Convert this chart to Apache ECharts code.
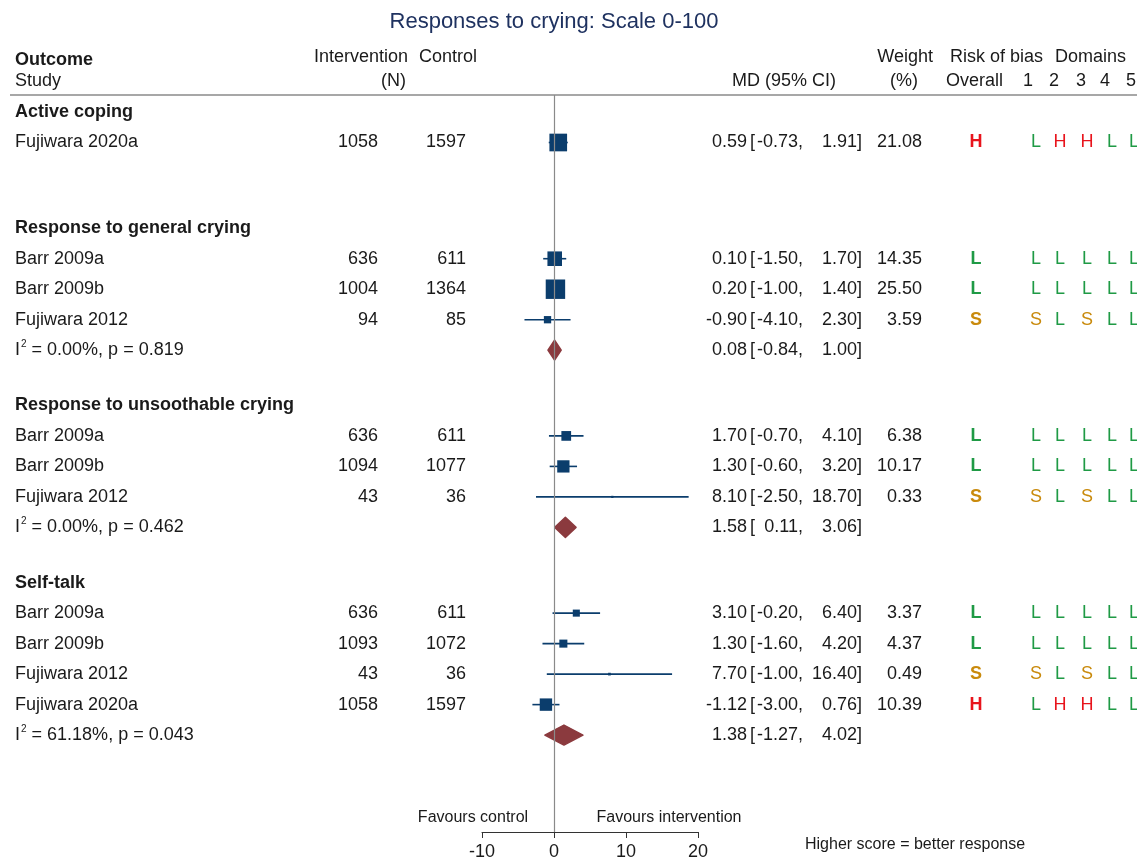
<!DOCTYPE html>
<html>
<head>
<meta charset="utf-8">
<script src="https://cdn.jsdelivr.net/npm/echarts@6/dist/echarts.min.js"></script>
<style>
html,body{margin:0;padding:0;background:#fff;}
#chart{width:1137px;height:859px;}
</style>
</head>
<body>
<div id="chart"></div>
<script>
// ---------------- DATA ----------------
const groupNames = ["Active coping", "Response to general crying", "Response to unsoothable crying", "Self-talk"];
const studyGroup = [0, 1, 1, 1, 2, 2, 2, 3, 3, 3, 3];
const studyNames = ["Fujiwara 2020a", "Barr 2009a", "Barr 2009b", "Fujiwara 2012", "Barr 2009a", "Barr 2009b", "Fujiwara 2012", "Barr 2009a", "Barr 2009b", "Fujiwara 2012", "Fujiwara 2020a"];
const nIntervention = [1058, 636, 1004, 94, 636, 1094, 43, 636, 1093, 43, 1058];
const nControl = [1597, 611, 1364, 85, 611, 1077, 36, 611, 1072, 36, 1597];
const md = [0.59, 0.10, 0.20, -0.90, 1.70, 1.30, 8.10, 3.10, 1.30, 7.70, -1.12];
const ciLow = [-0.73, -1.50, -1.00, -4.10, -0.70, -0.60, -2.50, -0.20, -1.60, -1.00, -3.00];
const ciHigh = [1.91, 1.70, 1.40, 2.30, 4.10, 3.20, 18.70, 6.40, 4.20, 16.40, 0.76];
const weights = [21.08, 14.35, 25.50, 3.59, 6.38, 10.17, 0.33, 3.37, 4.37, 0.49, 10.39];
const robOverall = ["H", "L", "L", "S", "L", "L", "S", "L", "L", "S", "H"];
const robDomains = [
  ["L","H","H","L","L"], ["L","L","L","L","L"], ["L","L","L","L","L"], ["S","L","S","L","L"],
  ["L","L","L","L","L"], ["L","L","L","L","L"], ["S","L","S","L","L"],
  ["L","L","L","L","L"], ["L","L","L","L","L"], ["S","L","S","L","L"], ["L","H","H","L","L"]
];
const pooledMd = [null, 0.08, 1.58, 1.38];
const pooledLow = [null, -0.84, 0.11, -1.27];
const pooledHigh = [null, 1.00, 3.06, 4.02];
const pooledI2 = [null, "0.00", "0.00", "61.18"];
const pooledP = [null, "0.819", "0.462", "0.043"];

// ---------------- LAYOUT ----------------
const FONT = '"Liberation Sans", Arial, Helvetica, sans-serif';
const FS = 18;
const TXT = '#1a1a1a';
const NAVY = '#0b3d6c';
const DIAMOND = '#8b3a3e';
const robColor = { L: '#1f9a45', H: '#e8141c', S: '#c98a0c' };
const domainX = [1036, 1060, 1087, 1112, 1134];

const tableRows = [];
const studyPos = [];
const pooledPos = [];
let pos = 0;
groupNames.forEach((g, gi) => {
  tableRows.push({ type: 'header', g: gi, pos: pos });
  pos += 1;
  studyGroup.forEach((sg, si) => {
    if (sg === gi) {
      studyPos[si] = pos;
      tableRows.push({ type: 'study', s: si, pos: pos });
      pos += 1;
    }
  });
  pooledPos[gi] = pos;
  if (pooledMd[gi] !== null) tableRows.push({ type: 'pooled', g: gi, pos: pos });
  pos += 1.81;
});

const ROW_PX = 30.5;
const gridTop = 95, gridBottomPx = 832, firstRowPx = 112;

const f2 = v => v.toFixed(2);

function txt(children, text, x, y, align, extra) {
  children.push({
    type: 'text',
    style: Object.assign({
      text: text, x: x, y: y, align: align, verticalAlign: 'middle',
      fontSize: FS, fontFamily: FONT, fill: TXT
    }, extra || {})
  });
}

function ciTexts(children, y, m, l, h) {
  txt(children, f2(m), 747, y, 'right');
  txt(children, '[', 750, y, 'left');
  txt(children, f2(l) + ',', 803, y, 'right');
  txt(children, f2(h) + ']', 862, y, 'right');
}

function gText(text, x, y, align, extra) {
  return { type: 'text', style: Object.assign({ text: text, x: x, y: y, align: align, verticalAlign: 'middle', fontSize: FS, fontFamily: FONT, fill: TXT }, extra || {}) };
}

const chart = echarts.init(document.getElementById('chart'), null, { renderer: 'canvas' });

const option = {
  backgroundColor: '#fff',
  animation: false,
  grid: { left: 482, width: 216, top: gridTop, height: gridBottomPx - gridTop, containLabel: false, outerBoundsMode: 'none' },
  xAxis: {
    type: 'value', min: -10, max: 20, interval: 10, position: 'bottom',
    axisLine: { show: true, onZero: false, lineStyle: { color: '#333', width: 1 } },
    axisTick: { show: true, length: 6, inside: false, lineStyle: { color: '#333' } },
    axisLabel: { fontSize: FS, fontFamily: FONT, color: TXT, margin: 11 },
    splitLine: { show: false }
  },
  yAxis: {
    type: 'value', inverse: true, show: false,
    min: (gridTop - firstRowPx) / ROW_PX,
    max: (gridBottomPx - firstRowPx) / ROW_PX,
    splitLine: { show: false }
  },
  graphic: [
    gText('Responses to crying: Scale 0-100', 554, 22, 'center', { fontSize: 22, fill: '#1f3260' }),
    gText('Outcome', 15, 60, 'left', { fontWeight: 'bold' }),
    gText('Study', 15, 81, 'left'),
    gText('Intervention', 408, 57, 'right'),
    gText('Control', 419, 57, 'left'),
    gText('(N)', 406, 81, 'right'),
    gText('MD (95% CI)', 836, 81, 'right'),
    gText('Weight', 933, 57, 'right'),
    gText('(%)', 918, 81, 'right'),
    gText('Risk of bias', 950, 57, 'left'),
    gText('Domains', 1055, 57, 'left'),
    gText('Overall', 946, 81, 'left'),
    ...['1','2','3','4','5'].map((d, i) => gText(d, [1028, 1054, 1081, 1105, 1131][i], 81, 'center')),
    { type: 'line', shape: { x1: 10, y1: 95, x2: 1137, y2: 95 }, style: { stroke: '#8a8a8a', lineWidth: 1.3 } },
    gText('Favours control', 473, 818, 'center', { fontSize: 16 }),
    gText('Favours intervention', 669, 818, 'center', { fontSize: 16 }),
    gText('Higher score = better response', 805, 845, 'left', { fontSize: 16 })
  ],
  series: [
    {
      type: 'custom', name: 'studies', clip: false,
      data: md.map((m, i) => [m, studyPos[i], ciLow[i], ciHigh[i], weights[i]]),
      encode: { x: 0, y: 1 },
      renderItem: function (params, api) {
        const y = api.value(1);
        const pl = api.coord([api.value(2), y]);
        const ph = api.coord([api.value(3), y]);
        const pm = api.coord([api.value(0), y]);
        const side = 3.85 * Math.sqrt(api.value(4));
        return {
          type: 'group',
          children: [
            { type: 'line', shape: { x1: pl[0], y1: pl[1], x2: ph[0], y2: ph[1] }, style: { stroke: NAVY, lineWidth: 1.6 } },
            { type: 'rect', shape: { x: pm[0] - side / 2, y: pm[1] - side / 2, width: side, height: side }, style: { fill: NAVY } }
          ]
        };
      },
      markLine: {
        silent: true, symbol: ['none', 'none'], label: { show: false },
        lineStyle: { color: '#8a8a8a', width: 1.2, type: 'solid' },
        data: [{ xAxis: 0 }]
      },
      z: 3
    },
    {
      type: 'custom', name: 'pooled', clip: false,
      data: pooledMd.map((m, g) => m === null ? null : [m, pooledPos[g], pooledLow[g], pooledHigh[g]]).filter(d => d !== null),
      encode: { x: 0, y: 1 },
      renderItem: function (params, api) {
        const y = api.value(1);
        const pl = api.coord([api.value(2), y]);
        const ph = api.coord([api.value(3), y]);
        const pm = api.coord([api.value(0), y]);
        const hh = 10;
        return {
          type: 'polygon',
          shape: { points: [[pl[0], pl[1]], [pm[0], pm[1] - hh], [ph[0], ph[1]], [pm[0], pm[1] + hh]] },
          style: { fill: DIAMOND, stroke: DIAMOND, lineWidth: 1.5, lineJoin: 'round' }
        };
      },
      z: 3
    },
    {
      type: 'custom', name: 'table', clip: false, silent: true,
      data: tableRows.map((r) => [0, r.pos]),
      encode: { x: 0, y: 1 },
      renderItem: function (params, api) {
        const r = tableRows[params.dataIndex];
        const y = api.coord([0, api.value(1)])[1];
        const c = [];
        if (r.type === 'header') {
          txt(c, groupNames[r.g], 15, y, 'left', { fontWeight: 'bold' });
        } else if (r.type === 'study') {
          const s = r.s;
          txt(c, studyNames[s], 15, y, 'left');
          txt(c, String(nIntervention[s]), 378, y, 'right');
          txt(c, String(nControl[s]), 466, y, 'right');
          ciTexts(c, y, md[s], ciLow[s], ciHigh[s]);
          txt(c, f2(weights[s]), 922, y, 'right');
          txt(c, robOverall[s], 976, y, 'center', { fontWeight: 'bold', fill: robColor[robOverall[s]] });
          robDomains[s].forEach((d, k) => txt(c, d, domainX[k], y, 'center', { fill: robColor[d] }));
        } else {
          const g = r.g;
          c.push({
            type: 'text',
            style: {
              text: '{i|I}{sup|2}{t| = ' + pooledI2[g] + '%, p = ' + pooledP[g] + '}',
              x: 15, y: y, align: 'left', verticalAlign: 'middle',
              fontSize: FS, fontFamily: FONT, fill: TXT,
              rich: {
                i: { fontSize: FS, fontFamily: FONT, fill: TXT },
                sup: { fontSize: 10, fontFamily: FONT, fill: TXT, verticalAlign: 'top', padding: [0, 0, 12, 1] },
                t: { fontSize: FS, fontFamily: FONT, fill: TXT }
              }
            }
          });
          ciTexts(c, y, pooledMd[g], pooledLow[g], pooledHigh[g]);
        }
        return { type: 'group', children: c };
      },
      z: 5
    }
  ]
};

chart.setOption(option);
</script>
</body>
</html>
